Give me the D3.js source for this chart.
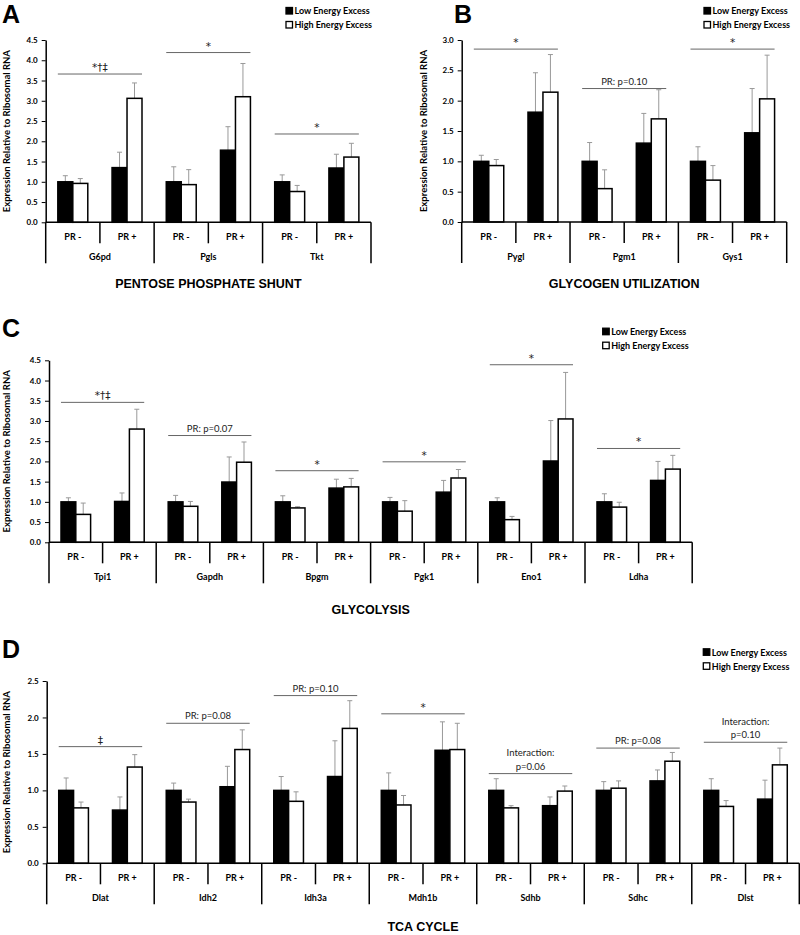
<!DOCTYPE html>
<html>
<head>
<meta charset="utf-8">
<script src="https://cdn.jsdelivr.net/npm/d3@7/dist/d3.min.js"></script>
<style>
  body { margin: 0; background: #fff; }
  svg { display: block; }
</style>
</head>
<body>
<svg id="chart" width="800" height="935"></svg>
<script>
// series + sub categories
const legendLabels = ['Low Energy Excess', 'High Energy Excess'];
const prLabels = ['PR -', 'PR +'];

// A - pentose phosphate shunt
const genesA = ['G6pd', 'Pgls', 'Tkt'];
const lowA = [[1.00, 1.35], [1.00, 1.78], [1.00, 1.34]];
const lowErrA = [[0.15, 0.38], [0.37, 0.58], [0.17, 0.34]];
const highA = [[0.96, 3.06], [0.93, 3.10], [0.76, 1.61]];
const highErrA = [[0.12, 0.38], [0.37, 0.82], [0.15, 0.34]];
const sigA = [3.66, 4.19, 2.18];
const sigTextA = [['*†‡'], ['*'], ['*']];
const ticksA = [0, 0.5, 1, 1.5, 2, 2.5, 3, 3.5, 4, 4.5];

// B - glycogen utilization
const genesB = ['Pygl', 'Pgm1', 'Gys1'];
const lowB = [[1.00, 1.81], [1.00, 1.30], [1.00, 1.47]];
const lowErrB = [[0.10, 0.65], [0.31, 0.49], [0.24, 0.73]];
const highB = [[0.93, 2.14], [0.55, 1.70], [0.69, 2.03]];
const highErrB = [[0.10, 0.62], [0.31, 0.48], [0.24, 0.72]];
const sigB = [2.85, 2.20, 2.85];
const sigTextB = [['*'], ['PR: p=0.10'], ['*']];
const ticksB = [0, 0.5, 1, 1.5, 2, 2.5, 3];

// C - glycolysis
const genesC = ['Tpi1', 'Gapdh', 'Bpgm', 'Pgk1', 'Eno1', 'Ldha'];
const lowC = [[1.00, 1.01], [1.00, 1.49], [1.00, 1.34], [1.00, 1.24], [1.00, 2.01], [1.00, 1.53]];
const lowErrC = [[0.10, 0.21], [0.16, 0.62], [0.15, 0.22], [0.11, 0.29], [0.10, 1.00], [0.20, 0.47]];
const highC = [[0.69, 2.80], [0.89, 1.98], [0.85, 1.37], [0.77, 1.59], [0.56, 3.05], [0.87, 1.81]];
const highErrC = [[0.28, 0.49], [0.12, 0.50], [0.03, 0.21], [0.26, 0.21], [0.08, 1.15], [0.12, 0.34]];
const sigC = [3.46, 2.64, 1.77, 1.99, 4.39, 2.32];
const sigTextC = [['*†‡'], ['PR: p=0.07'], ['*'], ['*'], ['*'], ['*']];
const ticksC = [0, 0.5, 1, 1.5, 2, 2.5, 3, 3.5, 4, 4.5];

// D - TCA cycle
const genesD = ['Dlat', 'Idh2', 'Idh3a', 'Mdh1b', 'Sdhb', 'Sdhc', 'Dlst'];
const lowD = [[1.00, 0.73], [1.00, 1.05], [1.00, 1.19], [1.00, 1.55], [1.00, 0.79], [1.00, 1.13], [1.00, 0.88]];
const lowErrD = [[0.17, 0.18], [0.10, 0.28], [0.19, 0.49], [0.24, 0.39], [0.16, 0.12], [0.12, 0.15], [0.16, 0.26]];
const highD = [[0.76, 1.32], [0.84, 1.56], [0.85, 1.85], [0.80, 1.56], [0.76, 0.99], [1.03, 1.40], [0.78, 1.35]];
const highErrD = [[0.08, 0.17], [0.04, 0.27], [0.13, 0.38], [0.13, 0.36], [0.03, 0.07], [0.10, 0.12], [0.08, 0.23]];
const sigD = [1.60, 1.92, 2.30, 2.05, 1.23, 1.58, 1.66];
const sigTextD = [['‡'], ['PR: p=0.08'], ['PR: p=0.10'], ['*'], ['Interaction:', 'p=0.06'], ['PR: p=0.08'], ['Interaction:', 'p=0.10']];
const ticksD = [0, 0.5, 1, 1.5, 2, 2.5];

const svg = d3.select('#chart');
const LAB = 'Lato, "Open Sans", sans-serif';
const ARIAL = '"Liberation Sans", Arial, sans-serif';

function drawPanel(p) {
  const g = svg.append('g');
  const y = d3.scaleLinear().domain([0, p.ticks[p.ticks.length-1]]).range([p.y0, p.yTop]);
  const xGene = d3.scaleBand().domain(p.genes).range([p.x0, p.x1]);
  const xPr = d3.scaleBand().domain(prLabels).range([0, xGene.bandwidth()]);
  const xSer = d3.scaleBand().domain(legendLabels).range([0, xPr.bandwidth()]).paddingOuter(0.81);
  const bw = xSer.bandwidth();

  let rows = [];
  p.genes.forEach((gene, i) => {
    prLabels.forEach((pr, j) => {
      rows.push({gene: gene, pr: pr, s: legendLabels[0], v: p.low[i][j], e: p.lowErr[i][j]});
      rows.push({gene: gene, pr: pr, s: legendLabels[1], v: p.high[i][j], e: p.highErr[i][j]});
    });
  });
  const bx = d => xGene(d.gene) + xPr(d.pr) + xSer(d.s);

  // error bars (upper only)
  g.selectAll('line.err').data(rows).enter().append('line')
    .attr('x1', d => bx(d) + bw/2).attr('x2', d => bx(d) + bw/2)
    .attr('y1', d => y(d.v)).attr('y2', d => y(d.v + d.e))
    .style('stroke', '#999').style('stroke-width', 1);
  g.selectAll('line.cap').data(rows).enter().append('line')
    .attr('x1', d => bx(d) + bw/2 - 2.5).attr('x2', d => bx(d) + bw/2 + 2.5)
    .attr('y1', d => y(d.v + d.e)).attr('y2', d => y(d.v + d.e))
    .style('stroke', '#999').style('stroke-width', 1);

  // bars
  g.selectAll('rect.bar').data(rows).enter().append('rect')
    .attr('x', d => bx(d))
    .attr('width', bw)
    .attr('y', d => y(d.v))
    .attr('height', d => p.y0 - y(d.v))
    .style('fill', d => d.s == legendLabels[0] ? '#000' : '#fff')
    .style('stroke', '#000')
    .style('stroke-width', 1.5);

  // y axis
  const ax = g.append('g')
    .attr('transform', `translate(${p.x0},0)`)
    .call(d3.axisLeft(y).tickValues(p.ticks).tickFormat(d3.format('.1f')).tickSize(4).tickSizeOuter(0).tickPadding(4));
  ax.select('.domain').style('stroke', '#000').style('stroke-width', 1.5);
  ax.selectAll('.tick line').style('stroke', '#000').style('stroke-width', 1);
  ax.selectAll('.tick text').style('font-family', LAB).style('font-weight', 'bold')
    .style('font-size', '8px').attr('fill', '#000');

  // x axis line and category dividers
  g.append('line').attr('x1', p.x0).attr('x2', p.x1).attr('y1', p.y0).attr('y2', p.y0)
    .style('stroke', '#000').style('stroke-width', 1.5);
  const bounds = p.genes.map(d => xGene(d)).concat([p.x1]);
  g.selectAll('line.gdiv').data(bounds).enter().append('line')
    .attr('x1', d => d).attr('x2', d => d).attr('y1', p.y0).attr('y2', p.y0 + 41)
    .style('stroke', '#000').style('stroke-width', 1.5);
  g.selectAll('line.pdiv').data(p.genes).enter().append('line')
    .attr('x1', d => xGene(d) + xPr(prLabels[1])).attr('x2', d => xGene(d) + xPr(prLabels[1]))
    .attr('y1', p.y0).attr('y2', p.y0 + 21)
    .style('stroke', '#000').style('stroke-width', 1.5);

  let prRows = [];
  p.genes.forEach(gene => prLabels.forEach(pr => prRows.push({gene: gene, pr: pr})));
  g.selectAll('text.pr').data(prRows).enter().append('text')
    .attr('x', d => xGene(d.gene) + xPr(d.pr) + xPr.bandwidth()/2)
    .attr('y', p.y0 + 18)
    .attr('text-anchor', 'middle')
    .style('font-family', LAB).style('font-weight', 'bold').style('font-size', '9px')
    .text(d => d.pr);
  g.selectAll('text.gene').data(p.genes).enter().append('text')
    .attr('x', d => xGene(d) + xGene.bandwidth()/2)
    .attr('y', p.y0 + 38)
    .attr('text-anchor', 'middle')
    .style('font-family', LAB).style('font-weight', 'bold').style('font-size', '9px')
    .text(d => d);

  // significance lines
  p.genes.forEach((gene, i) => {
    const xa = xGene(gene) + xPr(prLabels[0]) + xSer(legendLabels[0]);
    const xb = xGene(gene) + xPr(prLabels[1]) + xSer(legendLabels[1]) + bw;
    const yy = y(p.sig[i]);
    g.append('line').attr('x1', xa).attr('x2', xb).attr('y1', yy).attr('y2', yy)
      .style('stroke', '#666').style('stroke-width', 1);
    const lines = p.sigText[i];
    lines.forEach((t, k) => {
      const sym = t.length < 4;
      g.append('text')
        .attr('x', (xa + xb)/2)
        .attr('y', yy - (sym ? 3 : 4) - (lines.length - 1 - k)*13.3)
        .attr('text-anchor', 'middle')
        .style('font-family', sym ? '"DejaVu Sans", sans-serif' : LAB)
        .style('font-size', sym ? '10.5px' : '9.5px')
        .attr('fill', '#222')
        .text(t);
    });
  });

  // y axis title
  g.append('text')
    .attr('transform', `translate(${p.yTitleX},${(p.y0 + p.yTop)/2}) rotate(-90)`)
    .attr('text-anchor', 'middle')
    .attr('dominant-baseline', 'central')
    .style('font-family', LAB).style('font-weight', 'bold').style('font-size', '9.5px')
    .text('Expression Relative to Ribosomal RNA');

  // legend
  const leg = g.selectAll('g.leg').data(legendLabels).enter().append('g')
    .attr('transform', (d, i) => `translate(${p.legX},${p.legY + i*14})`);
  leg.append('rect').attr('x', 0).attr('y', -3.5).attr('width', 6.5).attr('height', 6.5)
    .style('fill', (d, i) => i == 0 ? '#000' : '#fff')
    .style('stroke', '#000').style('stroke-width', 1.3);
  leg.append('text').attr('x', 8.5).attr('y', 3.3)
    .style('font-family', LAB).style('font-weight', 'bold').style('font-size', '9px')
    .text(d => d);

  // panel letter + title
  g.append('text').attr('x', p.labX).attr('y', p.labY)
    .style('font-family', ARIAL).style('font-weight', 'bold').style('font-size', '25px')
    .text(p.letter);
  g.append('text').attr('x', (p.x0 + p.x1)/2).attr('y', p.titleY)
    .attr('text-anchor', 'middle')
    .style('font-family', ARIAL).style('font-weight', 'bold').style('font-size', '12.5px')
    .text(p.title);
}

drawPanel({letter: 'A', title: 'PENTOSE PHOSPHATE SHUNT', genes: genesA, low: lowA, lowErr: lowErrA,
  high: highA, highErr: highErrA, sig: sigA, sigText: sigTextA, ticks: ticksA,
  x0: 45.7, x1: 371, y0: 222.3, yTop: 40, legX: 286, legY: 11, labX: 2, labY: 23, titleY: 288, yTitleX: 6});
drawPanel({letter: 'B', title: 'GLYCOGEN UTILIZATION', genes: genesB, low: lowB, lowErr: lowErrB,
  high: highB, highErr: highErrB, sig: sigB, sigText: sigTextB, ticks: ticksB,
  x0: 461.7, x1: 786.7, y0: 222, yTop: 40, legX: 704, legY: 11, labX: 454, labY: 23, titleY: 288, yTitleX: 423});
drawPanel({letter: 'C', title: 'GLYCOLYSIS', genes: genesC, low: lowC, lowErr: lowErrC,
  high: highC, highErr: highErrC, sig: sigC, sigText: sigTextC, ticks: ticksC,
  x0: 49, x1: 692.2, y0: 542.3, yTop: 360.3, legX: 602.7, legY: 331.7, labX: 2, labY: 337, titleY: 614, yTitleX: 6});
drawPanel({letter: 'D', title: 'TCA CYCLE', genes: genesD, low: lowD, lowErr: lowErrD,
  high: highD, highErr: highErrD, sig: sigD, sigText: sigTextD, ticks: ticksD,
  x0: 46.7, x1: 799.3, y0: 863.3, yTop: 681, legX: 703.3, legY: 652.3, labX: 2, labY: 658, titleY: 931, yTitleX: 6});
</script>
</body>
</html>
